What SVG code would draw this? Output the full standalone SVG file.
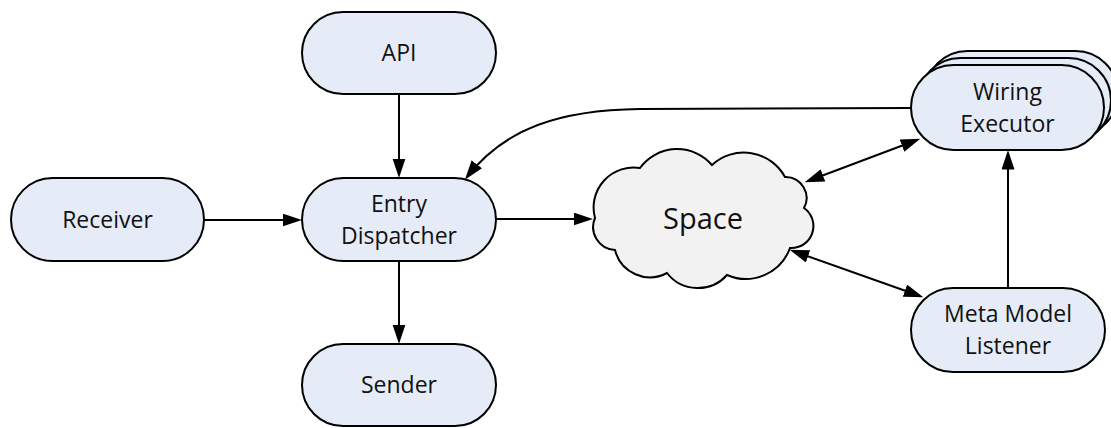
<svg xmlns="http://www.w3.org/2000/svg" width="1111" height="428" viewBox="0 0 1111 428">
  <style>
    .node { fill: #e6ecf7; stroke: #000; stroke-width: 2; }
    .cloud { fill: #f2f2f2; stroke: #000; stroke-width: 2; }
    .label { font-family: "Open Sans", "Liberation Sans", sans-serif; font-size: 23px; fill: #111; text-anchor: middle; }
    .big { font-size: 29px; }
    .edge { fill: none; stroke: #000; stroke-width: 2; }
  </style>
  <defs>
    <marker id="ah" markerUnits="userSpaceOnUse" markerWidth="22" markerHeight="14" refX="16" refY="6.5" orient="auto-start-reverse">
      <path d="M0,0 L19.5,6.5 L0,13 z" fill="#000"/>
    </marker>
  </defs>
  <rect width="1111" height="428" fill="#fff"/>

  <!-- connectors -->
  <g id="connectors">
    <path class="edge" d="M399,94 L399,174.5" marker-end="url(#ah)"/>
    <path class="edge" d="M204,220 L298.5,220" marker-end="url(#ah)"/>
    <path class="edge" d="M399,261 L399,340.5" marker-end="url(#ah)"/>
    <path class="edge" d="M496,219 L589.5,219" marker-end="url(#ah)"/>
    <path class="edge" d="M911,108 L640,109 C560,110 505,128 467,177" marker-end="url(#ah)"/>
    <path class="edge" d="M808,181 L917,140" marker-start="url(#ah)" marker-end="url(#ah)"/>
    <path class="edge" d="M793,251 L920,296" marker-start="url(#ah)" marker-end="url(#ah)"/>
    <path class="edge" d="M1008,288 L1008,153.5" marker-end="url(#ah)"/>
  </g>

  <g id="api">
    <rect class="node" x="302" y="12" width="194" height="82" rx="41"/>
    <text class="label" x="399" y="61">API</text>
  </g>

  <g id="receiver">
    <rect class="node" x="11" y="178" width="193" height="83" rx="41.5"/>
    <text class="label" x="107.5" y="228">Receiver</text>
  </g>

  <g id="entry-dispatcher">
    <rect class="node" x="302" y="178" width="194" height="83" rx="41.5"/>
    <text class="label" x="399" y="212">Entry</text>
    <text class="label" x="399" y="244">Dispatcher</text>
  </g>

  <g id="sender">
    <rect class="node" x="302" y="344" width="194" height="82" rx="41"/>
    <text class="label" x="399" y="393">Sender</text>
  </g>

  <g id="space">
    <path class="cloud" d="M595,218
      A40,40 0 0 1 640,168
      A46,46 0 0 1 712,165
      A47,47 0 0 1 785,177
      A21,21 0 0 1 804,208
      A22,22 0 0 1 790,248
      A47,47 0 0 1 727,275
      A39,39 0 0 1 667,273
      A36,36 0 0 1 615,250
      A23,23 0 0 1 595,218 Z"/>
    <text class="label big" x="703" y="229">Space</text>
  </g>

  <g id="wiring-executor">
    <rect class="node" x="925" y="51" width="193" height="85" rx="42.5"/>
    <rect class="node" x="918" y="58" width="193" height="85" rx="42.5"/>
    <rect class="node" x="911" y="65" width="193" height="85" rx="42.5"/>
    <text class="label" x="1007.5" y="100">Wiring</text>
    <text class="label" x="1007.5" y="132">Executor</text>
  </g>

  <g id="meta-model-listener">
    <rect class="node" x="911" y="288" width="194" height="84" rx="42"/>
    <text class="label" x="1008" y="322">Meta Model</text>
    <text class="label" x="1008" y="354">Listener</text>
  </g>
</svg>
